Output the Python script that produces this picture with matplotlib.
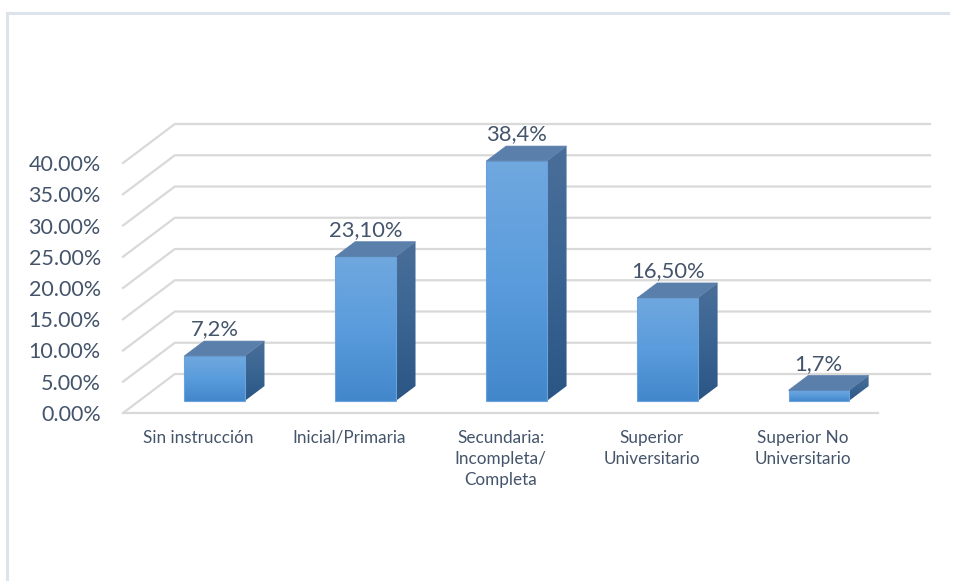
import matplotlib.pyplot as plt
import numpy as np
from matplotlib.patches import Polygon, Rectangle
from matplotlib.colors import LinearSegmentedColormap

# Nivel educativo
categorias = ['Sin instrucción', 'Inicial/Primaria', 'Secundaria:\nIncompleta/\nCompleta',
              'Superior\nUniversitario', 'Superior No\nUniversitario']
valores = [7.2, 23.1, 38.4, 16.5, 1.7]
etiquetas = ['7,2%', '23,10%', '38,4%', '16,50%', '1,7%']
yticks = [0, 5, 10, 15, 20, 25, 30, 35, 40]

plt.rcParams['font.family'] = ['Lato', 'DejaVu Sans']
texto = '#44546A'
grid_c = '#D9D9D9'

fig = plt.figure(figsize=(9.55, 5.81), dpi=100)
# marco del grafico
fig.add_artist(plt.Line2D([7 / 955, 948 / 955], [1 - 13 / 581, 1 - 13 / 581],
                          color='#DDE3EA', lw=2.2))
fig.add_artist(plt.Line2D([7 / 955, 7 / 955], [0, 1 - 13 / 581],
                          color='#DDE3EA', lw=2.2))

ax = fig.add_axes([123 / 955, (581 - 413) / 581, 807 / 955, 289 / 581])
n = len(categorias)
DX, DY = 0.343, 6.24          # desplazamiento de profundidad (3D)
d0, d1 = 0.31, 0.69           # profundidad de las barras
ancho = 0.4

xmin, xmax = -0.5, n - 0.5 + DX
ymin, ymax = 0, 40 + DY

# lineas de cuadricula (pared posterior + diagonal lateral)
for v in yticks:
    ax.plot([-0.5, -0.5 + DX, n - 0.5 + DX], [v, v + DY, v + DY],
            color=grid_c, lw=1.6, zorder=1, clip_on=False)
ax.plot([-0.5, n - 0.5], [0, 0], color=grid_c, lw=1.6, zorder=1, clip_on=False)

cm_front = LinearSegmentedColormap.from_list('front', ['#4387CB', '#5A9CDC', '#70A8DF'])
cm_side = LinearSegmentedColormap.from_list('side', ['#2A5584', '#3A6593', '#4A6E99'])
grad = np.linspace(0, 1, 256).reshape(-1, 1)

for i, (v, lab) in enumerate(zip(valores, etiquetas)):
    x0 = i - ancho / 2 + d0 * DX
    x1 = i + ancho / 2 + d0 * DX
    yb = d0 * DY
    yt = v + d0 * DY
    dx = (d1 - d0) * DX
    dy = (d1 - d0) * DY
    # cara frontal
    ax.imshow(grad, cmap=cm_front, origin='lower', aspect='auto',
              extent=[x0, x1, yb, yt], zorder=3, interpolation='bilinear')
    ax.add_patch(Rectangle((x0, yb), x1 - x0, yt - yb, fill=False,
                           ec='#6AA3DB', lw=0.8, zorder=4))
    # cara lateral
    side = Polygon([[x1, yb], [x1 + dx, yb + dy], [x1 + dx, yt + dy], [x1, yt]],
                   closed=True, fc='none', ec='none', zorder=3)
    ax.add_patch(side)
    im = ax.imshow(grad, cmap=cm_side, origin='lower', aspect='auto',
                   extent=[x1, x1 + dx, yb, yt + dy], zorder=3, interpolation='bilinear')
    im.set_clip_path(side)
    # cara superior
    ax.add_patch(Polygon([[x0, yt], [x0 + dx, yt + dy], [x1 + dx, yt + dy], [x1, yt]],
                         closed=True, fc='#5A7FAB', ec='#5A7FAB', lw=0.5, zorder=4))
    ax.annotate(lab, (i + d0 * DX, yt + dy), xytext=(0, 4), textcoords='offset points',
                ha='center', va='baseline', fontsize=15.8, color=texto, zorder=5)

ax.set_xlim(xmin, xmax)
ax.set_ylim(ymin, ymax)
ax.set_yticks(yticks)
ax.set_yticklabels(['%.2f%%' % t for t in yticks], fontsize=15.5, color=texto)
ax.set_xticks(range(n))
ax.set_xticklabels(categorias, fontsize=12.3, color=texto, linespacing=1.4)
ax.tick_params(length=0)
ax.tick_params(axis='y', pad=16)
ax.tick_params(axis='x', pad=12)
for s in ax.spines.values():
    s.set_visible(False)

fig.savefig('out.png', dpi=100)
plt.close('all')
